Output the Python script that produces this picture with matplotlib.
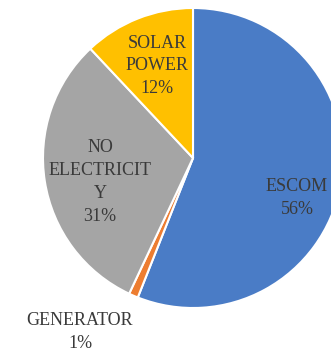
import matplotlib
matplotlib.use('Agg')
import matplotlib.pyplot as plt

categories = ['ESCOM', 'GENERATOR', 'NO\nELECTRICIT\nY', 'SOLAR\nPOWER']
shares = [56, 1, 31, 12]
colors = ['#4A7CC6', '#ED7D31', '#A5A5A5', '#FFC000']

# label anchor points in pixel coordinates (x from left, y from top)
label_pos = [(297, 198), (80, 332), (100, 182), (157, 66)]

W, H = 331, 353
fig = plt.figure(figsize=(W / 100, H / 100), dpi=100)
ax = fig.add_axes([0, 0, 1, 1])

cx, cy, r = 193, H - 158, 150
ax.pie(shares, colors=colors, startangle=90, counterclock=False,
       center=(cx, cy), radius=r,
       wedgeprops=dict(edgecolor='white', linewidth=1.5))
ax.set_aspect('auto')
ax.set_xlim(0, W)
ax.set_ylim(0, H)
ax.axis('off')

for name, val, (px, py) in zip(categories, shares, label_pos):
    ax.text(px, H - py, f'{name}\n{val}%', ha='center', va='center',
            fontsize=13, family='Liberation Serif', color='#3a3a3a',
            linespacing=1.45)

fig.savefig('out.png', dpi=100)
